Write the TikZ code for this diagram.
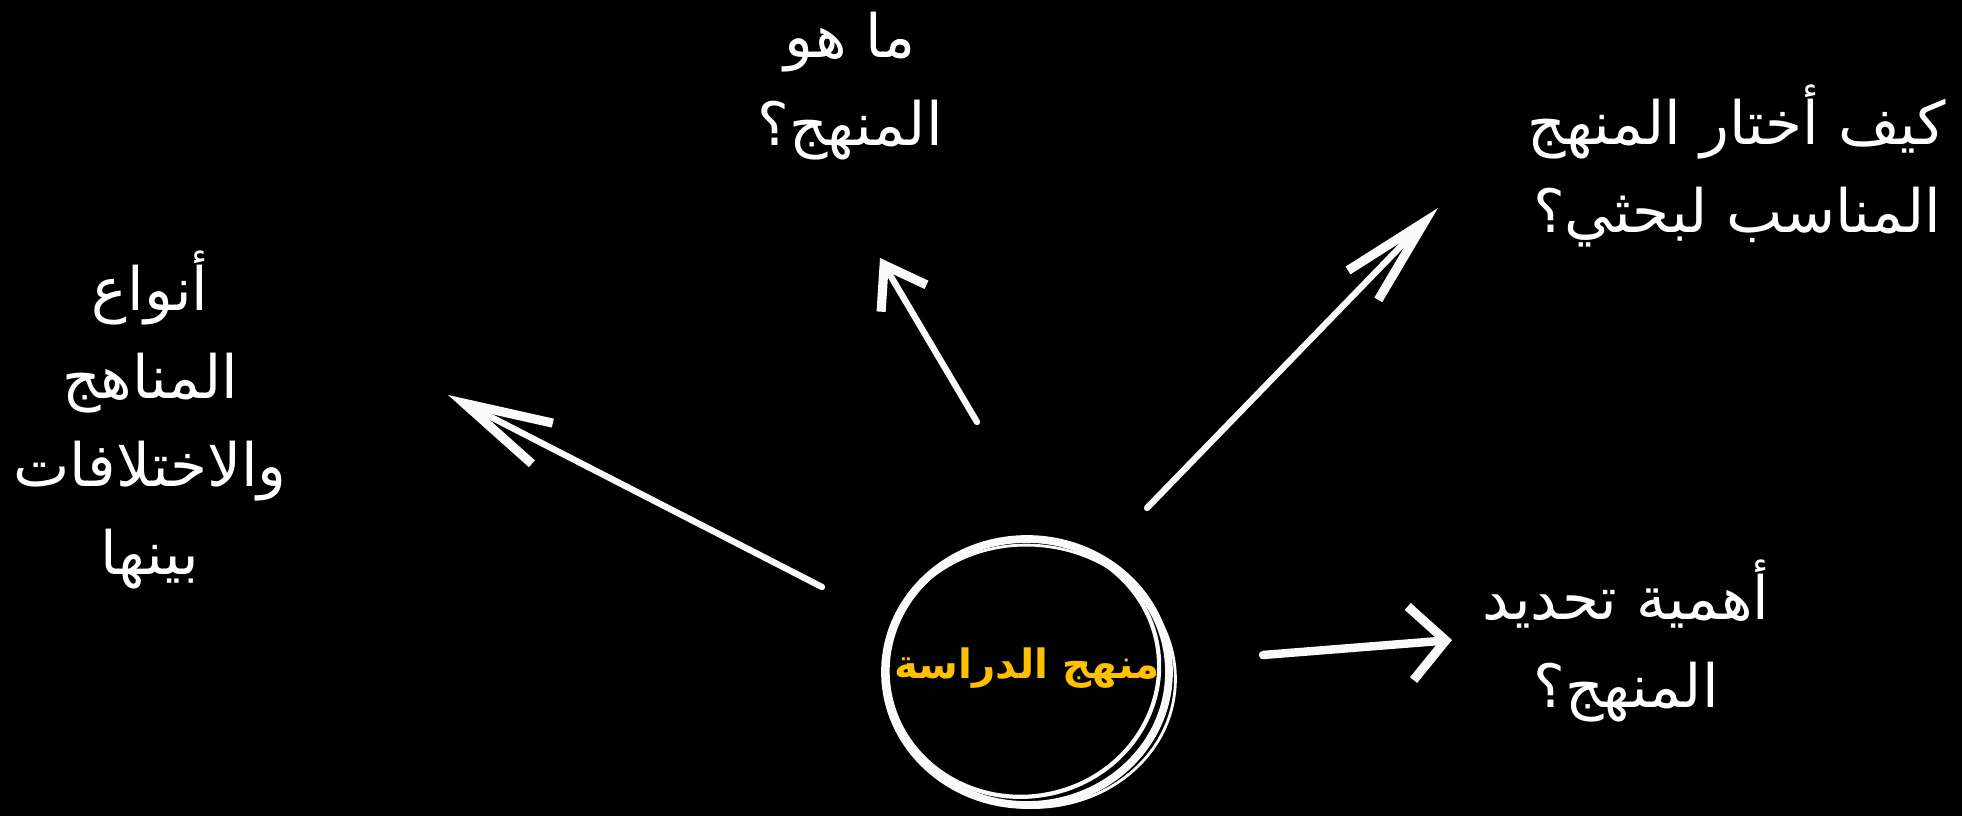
\documentclass[tikz,border=0pt]{standalone}
\usepackage{fontspec}
\usepackage{tikz}
\usetikzlibrary{arrows.meta}
\newfontfamily\arabicfont[Script=Arabic]{DejaVu Sans}
\TeXXeTstate=1
\definecolor{gold}{RGB}{255,192,0}
\definecolor{chalk}{RGB}{250,250,250}

\tikzset{
  topic/.style={text=white,align=center,font=\arabicfont\fontsize{17}{25}\selectfont},
  stroke/.style={draw=chalk,line width=1.8pt,line cap=round,line join=round},
}

\begin{document}
\begin{tikzpicture}[x=0.01cm,y=-0.01cm]
  \useasboundingbox (0,0) rectangle (1962,816);
  \fill[black] (-10,-10) rectangle (1972,826);

  \node[font=\arabicfont\bfseries\fontsize{11.5}{13}\selectfont,text=gold] (hub) at (1027,668) {\beginR منهج الدراسة\endR};
  \draw[stroke,line width=2.2pt] (1027,672) ellipse [x radius=142,y radius=133];
  \draw[stroke,line width=1.2pt,rotate around={10:(1027,672)}] (1024,668) ellipse [x radius=136,y radius=128];
  \draw[stroke,line width=0.8pt,rotate around={-6:(1027,672)}] (1030,676) ellipse [x radius=146,y radius=131];

  \node[topic] (what) at (850,86) {\beginR ما هو\endR\\\beginR المنهج؟\endR};
  \node[topic] (choose) at (1737,166) {\beginR كيف أختار المنهج\endR\\\beginR المناسب لبحثي؟\endR};
  \node[topic] (kinds) at (150,420) {\beginR أنواع\endR\\\beginR المناهج\endR\\\beginR والاختلافات\endR\\\beginR بينها\endR};
  \node[topic] (why) at (1626,641) {\beginR أهمية تحديد\endR\\\beginR المنهج؟\endR};

  \coordinate (kindsS) at (822,587);
  \coordinate (kindsE) at (448,395);
  \coordinate (whatS) at (977,422);
  \coordinate (whatE) at (880,258);
  \coordinate (chooseS) at (1147,508);
  \coordinate (chooseE) at (1438,208);
  \coordinate (whyS) at (1263,655);
  \coordinate (whyE) at (1452,640);

  \draw[stroke,-{Straight Barb[length=25pt,width=13pt,line width=2.6pt]}] (kindsS) -- (kindsE);
  \draw[stroke,-{Straight Barb[length=11pt,width=15pt,line width=2.6pt]}] (whatS) -- (whatE);
  \draw[stroke,-{Straight Barb[length=25pt,width=12pt,line width=2.6pt]}] (chooseS) -- (chooseE);
  \draw[stroke,line width=2.4pt,-{Straight Barb[length=10pt,width=21pt,line width=2.6pt]}] (whyS) -- (whyE);
\end{tikzpicture}
\end{document}
